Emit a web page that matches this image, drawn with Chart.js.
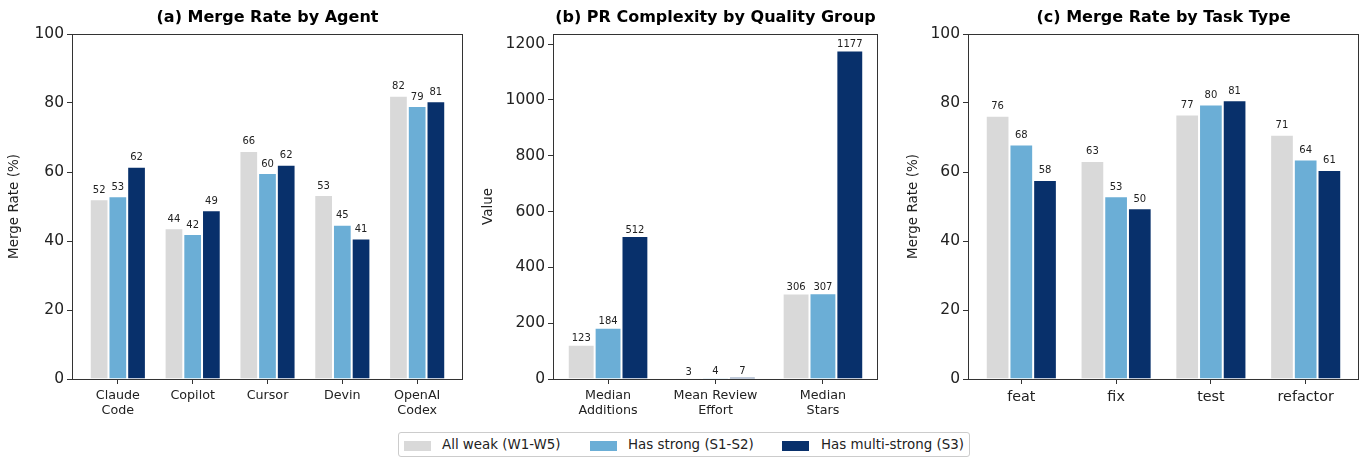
<!DOCTYPE html>
<html><head><meta charset="utf-8">
<script src="https://cdn.jsdelivr.net/npm/chart.js@4.4.1/dist/chart.umd.min.js"></script>
<style>
body{margin:0;background:#fff;width:1364px;height:458px;overflow:hidden;position:relative;font-family:"DejaVu Sans";}
.p{position:absolute;top:0;}
#legend{position:absolute;left:398px;top:432px;width:572px;height:25px;box-sizing:border-box;border:1px solid #cccccc;border-radius:3px;font-family:"DejaVu Sans";font-size:13.4px;color:#222;}
#legend .sw{position:absolute;top:8px;width:27px;height:9.5px;}
#legend .tx{position:absolute;top:3px;white-space:nowrap;line-height:17px;}
</style></head>
<body>
<div class="p" style="left:0px;width:470px;height:422px;"><canvas id="ca"></canvas></div>
<div class="p" style="left:470px;width:420px;height:422px;"><canvas id="cb"></canvas></div>
<div class="p" style="left:890px;width:474px;height:422px;"><canvas id="cc"></canvas></div>
<div id="legend"></div>
<script>
// ---- data ----
const seriesNames = ['All weak (W1-W5)', 'Has strong (S1-S2)', 'Has multi-strong (S3)'];
const seriesColors = ['#d9d9d9', '#6baed6', '#08306b'];

const agentCategories = [['Claude', 'Code'], 'Copilot', 'Cursor', 'Devin', ['OpenAI', 'Codex']];
const agentWeak   = [52.1, 43.7, 66.1, 53.3, 82.1];
const agentStrong = [53.0, 42.0, 59.7, 44.7, 79.1];
const agentMulti  = [61.5, 48.9, 62.1, 40.7, 80.5];

const complexityCategories = [['Median', 'Additions'], ['Mean Review', 'Effort'], ['Median', 'Stars']];
const complexityWeak   = [123, 3, 306];
const complexityStrong = [184, 4, 307];
const complexityMulti  = [512, 7, 1177];

const taskCategories = ['feat', 'fix', 'test', 'refactor'];
const taskWeak   = [76.3, 63.2, 76.7, 70.8];
const taskStrong = [68.0, 53.0, 79.6, 63.6];
const taskMulti  = [57.7, 49.5, 80.8, 60.6];

const titles = ['(a) Merge Rate by Agent', '(b) PR Complexity by Quality Group', '(c) Merge Rate by Task Type'];
const yTitles = ['Merge Rate (%)', 'Value', 'Merge Rate (%)'];
// -------------

const FONT = 'DejaVu Sans';
const TXT = '#222';

const framePlugin = {
  id: 'frame',
  afterDraw(chart, args, opts) {
    const {ctx, chartArea: a} = chart;
    ctx.save();
    ctx.strokeStyle = '#333';
    ctx.lineWidth = 1;
    ctx.strokeRect(Math.round(a.left) + 0.5, Math.round(a.top) + 0.5, Math.round(a.right - a.left) - 1, Math.round(a.bottom - a.top));
    ctx.fillStyle = '#000';
    ctx.font = 'bold 16px "' + FONT + '"';
    ctx.textAlign = 'center';
    ctx.textBaseline = 'middle';
    ctx.fillText(opts.text, (a.left + a.right) / 2, 18);
    ctx.restore();
  }
};

const valueLabels = {
  id: 'valueLabels',
  afterDatasetsDraw(chart, args, opts) {
    const {ctx} = chart;
    ctx.save();
    ctx.fillStyle = TXT;
    ctx.font = '10px "' + FONT + '"';
    ctx.textAlign = 'center';
    ctx.textBaseline = 'alphabetic';
    chart.data.datasets.forEach((ds, di) => {
      const meta = chart.getDatasetMeta(di);
      meta.data.forEach((el, i) => {
        const v = ds.data[i].y;
        ctx.fillText(String(Math.round(v)), el.x, el.y - opts.gap);
      });
    });
    ctx.restore();
  }
};

function makeChart(id, cats, series, cfg) {
  const n = cats.length;
  const pad = 0.375 + (n - 1 + 0.75) * 0.05;
  const datasets = series.map((vals, k) => ({
    label: seriesNames[k],
    data: vals.map((v, i) => ({x: i, y: v})),
    backgroundColor: seriesColors[k],
    borderColor: '#ffffff',
    borderWidth: 1,
    borderSkipped: 'bottom',
    barPercentage: 1,
    categoryPercentage: 0.75
  }));
  return new Chart(document.getElementById(id), {
    type: 'bar',
    data: {datasets},
    plugins: [framePlugin, valueLabels],
    options: {
      responsive: true,
      maintainAspectRatio: false,
      animation: false,
      layout: {padding: {top: 34, right: cfg.padRight, left: 0, bottom: 0}},
      plugins: {
        legend: {display: false},
        tooltip: {enabled: false},
        frame: {text: cfg.title},
        valueLabels: {gap: cfg.gap}
      },
      scales: {
        x: {
          type: 'linear',
          offset: false,
          min: -pad, max: n - 1 + pad,
          afterBuildTicks(scale) { scale.ticks = cats.map((c, i) => ({value: i})); },
          afterFit(scale) { scale.height = 43; },
          ticks: {
            autoSkip: false, maxRotation: 0, padding: 4.5,
            font: {family: FONT, size: cfg.xFont, lineHeight: 1.18}, color: TXT,
            callback: (v) => cats[v]
          },
          grid: {display: true, offset: false, drawOnChartArea: false, drawTicks: true, tickLength: 5, color: '#333', tickWidth: 1},
          border: {display: false}
        },
        y: {
          min: 0, max: cfg.yMax,
          afterBuildTicks(scale) {
            const t = [];
            for (let v = 0; v <= cfg.yMax + 1e-9; v += cfg.step) t.push({value: v});
            scale.ticks = t;
          },
          afterFit(scale) { scale.width = cfg.yWidth; },
          ticks: {padding: 3, font: {family: FONT, size: 15.5}, color: TXT, callback: (v) => String(v)},
          grid: {display: true, drawOnChartArea: false, drawTicks: true, tickLength: 5, color: '#333'},
          border: {display: false},
          title: {display: true, text: cfg.yTitle, font: {family: FONT, size: 13.5}, color: TXT, padding: {top: cfg.yTitlePad, bottom: 0}}
        }
      }
    }
  });
}

makeChart('ca', agentCategories, [agentWeak, agentStrong, agentMulti],
  {title: titles[0], yTitle: yTitles[0], yMax: 100, step: 20, yWidth: 72, padRight: 7, gap: 6.5, yTitlePad: 6.5, xFont: 12.7});
makeChart('cb', complexityCategories, [complexityWeak, complexityStrong, complexityMulti],
  {title: titles[1], yTitle: yTitles[1], yMax: 1177 * 1.05, step: 200, yWidth: 83, padRight: 12, gap: 3.5, yTitlePad: 10, xFont: 12.7});
makeChart('cc', taskCategories, [taskWeak, taskStrong, taskMulti],
  {title: titles[2], yTitle: yTitles[2], yMax: 100, step: 20, yWidth: 78, padRight: 5, gap: 6.5, yTitlePad: 15, xFont: 14.3});

// legend
const lg = document.getElementById('legend');
const swX = [5, 191, 383];
const txX = [43, 229, 422];
seriesNames.forEach((nm, k) => {
  const s = document.createElement('div');
  s.className = 'sw'; s.style.left = swX[k] + 'px'; s.style.background = seriesColors[k];
  lg.appendChild(s);
  const t = document.createElement('div');
  t.className = 'tx'; t.style.left = txX[k] + 'px'; t.textContent = nm;
  lg.appendChild(t);
});
</script>
</body></html>
